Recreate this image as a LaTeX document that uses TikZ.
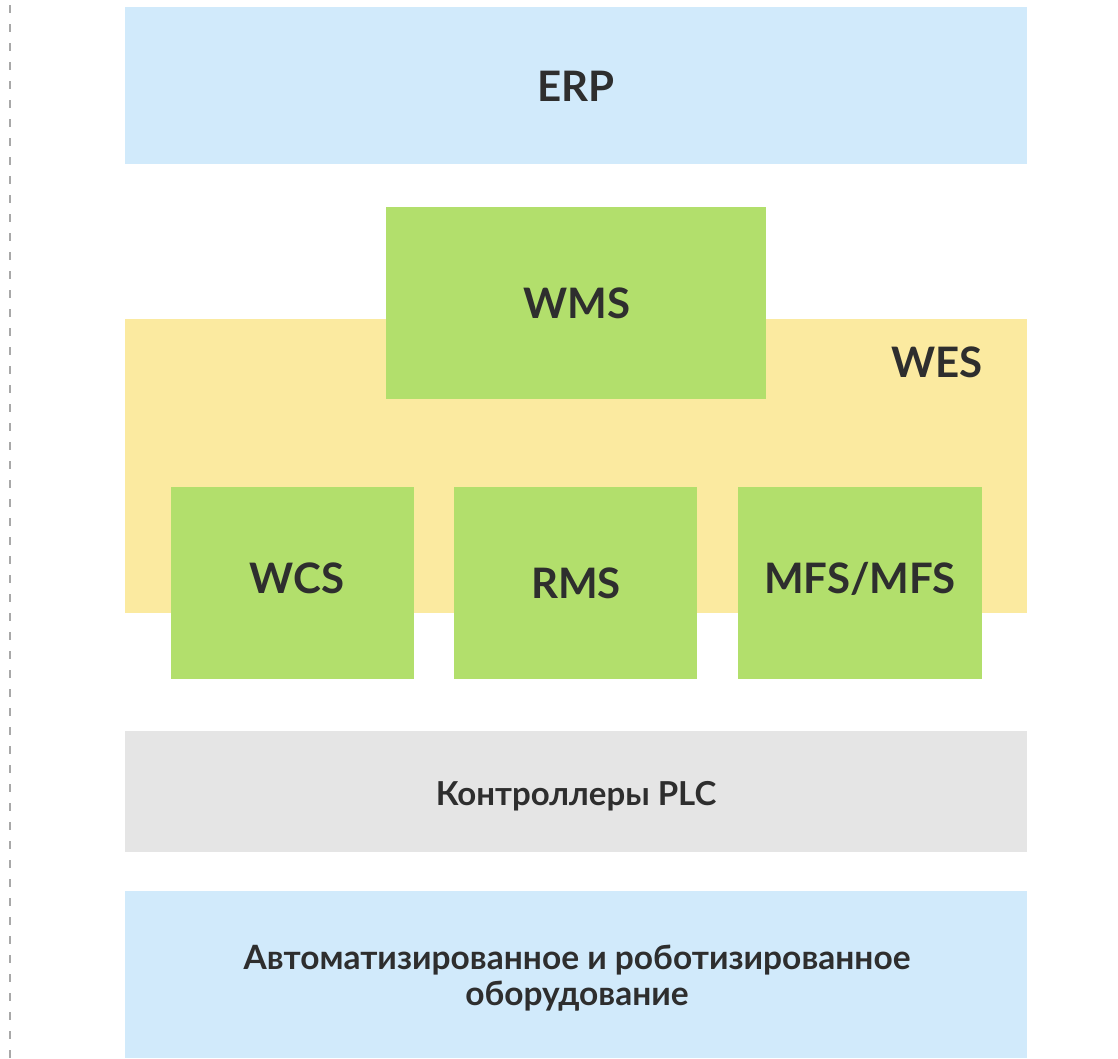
\documentclass[tikz,border=0pt]{standalone}
\usepackage{fontspec}
\setmainfont{Lato}
\definecolor{erpblue}{HTML}{D1EAFB}
\definecolor{wesyellow}{HTML}{FBEAA0}
\definecolor{modgreen}{HTML}{B2DF6C}
\definecolor{plcgray}{HTML}{E5E5E5}
\definecolor{txt}{HTML}{2E2E2E}
\definecolor{dashgray}{HTML}{A8A8A8}
\begin{document}
\begin{tikzpicture}[x=1pt,y=-1pt,
  big/.style={font=\fontsize{42}{48}\selectfont\bfseries,text=txt,anchor=base,inner sep=0pt},
  small/.style={font=\fontsize{33}{36}\selectfont\bfseries,text=txt,anchor=base,inner sep=0pt},
  smallb/.style={font=\fontsize{33.5}{36}\selectfont\bfseries,text=txt,anchor=base,inner sep=0pt}]
\useasboundingbox (0,0) rectangle (1118,1058);
% dashed line
\draw[dashgray,line width=1.5pt,dash pattern=on 8pt off 11pt] (10,5) -- (10,1058);
% ERP
\fill[erpblue] (125,7) rectangle (1027,164);
\node[big] (erp) at (576,101) {ERP};
% WES
\fill[wesyellow] (125,319) rectangle (1027,613);
\node[big] (wes) at (937,377) {WES};
% WMS
\fill[modgreen] (386,207) rectangle (766,399);
\node[big] (wms) at (577,318) {WMS};
% WCS RMS MFS
\fill[modgreen] (171,487) rectangle (414,679);
\node[big] (wcs) at (297,593) {WCS};
\fill[modgreen] (454,487) rectangle (697,679);
\node[big] (rms) at (576,598) {RMS};
\fill[modgreen] (738,487) rectangle (982,679);
\node[big] (mfs) at (860,593) {MFS/MFS};
% PLC
\fill[plcgray] (125,731) rectangle (1027,852);
\node[small] (plc) at (576,805) {Контроллеры PLC};
% bottom
\fill[erpblue] (125,891) rectangle (1027,1058);
\node[smallb] (eq1) at (577,969) {Автоматизированное и роботизированное};
\node[smallb] (eq2) at (577,1005) {оборудование};
\end{tikzpicture}
\end{document}
